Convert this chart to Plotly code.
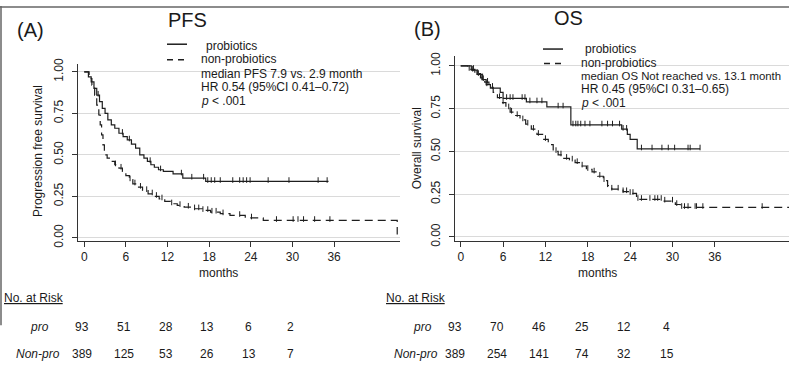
import plotly.graph_objects as go

W, H = 789, 369

# ---------------- Data ----------------
# Panel A: PFS
pfs_pro_t = [0, 0.6, 1.0, 1.4, 1.8, 2.2, 2.6, 3.0, 3.4, 3.9, 4.4, 5.0, 5.6, 6.2, 6.8, 7.4, 8.0,
             8.6, 9.1, 9.6, 10.1, 10.7, 11.4, 12.8, 14.2, 17.5, 35.2]
pfs_pro_s = [1.0, 0.97, 0.94, 0.90, 0.86, 0.82, 0.78, 0.75, 0.71, 0.68, 0.66, 0.63, 0.61, 0.59, 0.565,
             0.54, 0.50, 0.48, 0.46, 0.44, 0.425, 0.41, 0.40, 0.385, 0.36, 0.34, 0.34]
pfs_pro_cens = [2.0, 5.5, 6.5, 9.5, 11.0, 14.0, 15.5, 17.2, 17.8, 18.3, 18.8, 19.6, 21.4, 22.4, 22.9,
                23.4, 23.9, 26.5, 29.5, 33.7, 35.0]

pfs_non_t = [0, 0.7, 1.1, 1.5, 1.8, 2.1, 2.3, 2.5, 2.7, 2.9, 3.3, 3.8, 4.4, 5.0, 5.5, 6.0, 6.5, 7.0,
             7.6, 8.4, 9.2, 10.0, 10.8, 11.6, 12.4, 13.4, 14.4, 15.6, 17.0, 18.2, 19.6, 21.0, 23.2,
             25.8, 45.1]
pfs_non_s = [1.0, 0.96, 0.92, 0.86, 0.80, 0.74, 0.68, 0.62, 0.56, 0.50, 0.48, 0.46, 0.44, 0.42, 0.40,
             0.375, 0.35, 0.325, 0.305, 0.285, 0.265, 0.25, 0.235, 0.22, 0.205, 0.195, 0.185, 0.175,
             0.165, 0.155, 0.145, 0.135, 0.12, 0.105, 0.02]
pfs_non_cens = [4.5, 5.3, 6.6, 7.3, 8.1, 9.0, 9.8, 10.4, 11.2, 12.6, 13.8, 15.0, 15.9, 16.5, 17.1,
                17.8, 18.4, 19.0, 20.0, 22.4, 24.1, 27.7, 30.1, 30.8, 31.6, 33.2, 35.4]

# Panel B: OS
os_pro_t = [0, 1.5, 2.3, 3.0, 3.6, 4.2, 5.6, 6.0, 9.3, 12.2, 15.6, 22.8, 23.6, 24.0, 25.0, 33.9]
os_pro_s = [1.0, 0.975, 0.95, 0.92, 0.89, 0.87, 0.845, 0.81, 0.79, 0.76, 0.655, 0.63, 0.60, 0.57,
            0.515, 0.515]
os_pro_cens = [1.7, 2.5, 3.2, 3.7, 6.5, 7.0, 7.4, 8.7, 9.1, 9.8, 10.8, 11.5, 13.8, 14.5, 15.9, 16.3,
               16.6, 17.0, 17.6, 18.3, 20.0, 20.8, 21.5, 22.5, 23.0, 23.5, 25.6, 27.1, 28.5, 29.4,
               30.3, 32.2, 32.5, 33.9]

os_non_t = [0, 1.0, 2.0, 2.8, 3.4, 4.0, 4.6, 5.2, 5.8, 6.4, 7.0, 7.6, 8.4, 9.2, 10.0, 10.8, 11.6,
            12.4, 13.1, 13.8, 14.6, 15.4, 16.2, 17.0, 17.8, 18.6, 19.4, 20.2, 20.8, 21.4, 23.0,
            24.0, 24.9, 28.7, 30.4, 31.1, 46.5]
os_non_s = [1.0, 0.98, 0.955, 0.93, 0.905, 0.875, 0.845, 0.815, 0.785, 0.755, 0.73, 0.71, 0.685,
            0.66, 0.63, 0.60, 0.57, 0.54, 0.50, 0.48, 0.46, 0.45, 0.435, 0.415, 0.395, 0.38, 0.355,
            0.33, 0.30, 0.28, 0.265, 0.255, 0.22, 0.21, 0.19, 0.173, 0.173]
os_non_cens = [1.2, 1.8, 2.4, 3.1, 3.8, 4.5, 5.5, 6.0, 6.8, 7.2, 8.0, 8.8, 9.5, 10.3, 11.0, 12.0,
               13.5, 14.2, 15.0, 15.8, 16.5, 17.2, 18.0, 18.9, 19.7, 20.3, 20.8, 21.4, 22.3, 23.0,
               23.5, 24.0, 24.4, 25.1, 25.6, 26.8, 27.5, 27.9, 28.4, 28.9, 30.0, 30.6, 31.3, 31.7,
               32.2, 33.2, 33.4, 34.3, 42.7]

# Numbers at risk
risk_months = [0, 6, 12, 18, 24, 30]
pfs_risk_pro = [93, 51, 28, 13, 6, 2]
pfs_risk_non = [389, 125, 53, 26, 13, 7]
os_risk_pro = [93, 70, 46, 25, 12, 4]
os_risk_non = [389, 254, 141, 74, 32, 15]

x_ticks = [0, 6, 12, 18, 24, 30, 36]
y_ticks = [0, 0.25, 0.5, 0.75, 1.0]
y_ticktext = ["0.00", "0.25", "0.50", "0.75", "1.00"]

# ---------------- Helpers ----------------
def px(x):
    return x / W

def py(y):
    return 1 - y / H

def surv_at(t, times, surv):
    s = surv[0]
    for ti, si in zip(times, surv):
        if ti <= t:
            s = si
        else:
            break
    return s

FONT = "Liberation Sans, Arial, sans-serif"
LC = "#1e1e1e"
DASH = "8px,5px"

fig = go.Figure()

def add_curve(t, s, cens, xa, ya, dash):
    fig.add_trace(go.Scatter(x=t, y=s, mode="lines", line=dict(shape="hv", color=LC, width=1.2, dash=dash),
                             xaxis=xa, yaxis=ya, showlegend=False, hoverinfo="skip"))
    fig.add_trace(go.Scatter(x=cens, y=[surv_at(c, t, s) + 0.008 for c in cens], mode="markers",
                             marker=dict(symbol="line-ns", size=4, line=dict(color=LC, width=1)),
                             xaxis=xa, yaxis=ya, showlegend=False, hoverinfo="skip"))

add_curve(pfs_pro_t, pfs_pro_s, pfs_pro_cens, "x", "y", "solid")
add_curve(pfs_non_t, pfs_non_s, pfs_non_cens, "x", "y", DASH)
add_curve(os_pro_t, os_pro_s, os_pro_cens, "x2", "y2", "solid")
add_curve(os_non_t, os_non_s, os_non_cens, "x2", "y2", DASH)

xaxis_common = dict(showline=True, linecolor="#333", linewidth=1, ticks="outside", ticklen=5,
                    tickcolor="#333", tickvals=x_ticks, showgrid=False, zeroline=False,
                    tickfont=dict(family=FONT, size=12, color="#222"))
yaxis_common = dict(showline=True, linecolor="#333", linewidth=1, ticks="outside", ticklen=5,
                    tickcolor="#333", tickvals=y_ticks, ticktext=y_ticktext, tickangle=-90,
                    showgrid=True, gridcolor="#dadada", gridwidth=1, zeroline=False,
                    tickfont=dict(family=FONT, size=12, color="#222"), ticklabelstandoff=4)

fig.update_layout(
    width=W, height=H, autosize=False,
    margin=dict(l=0, r=0, t=0, b=0),
    paper_bgcolor="white", plot_bgcolor="white",
    xaxis=dict(domain=[px(78), px(400)], range=[-0.9, 45.5], anchor="y", **xaxis_common),
    yaxis=dict(domain=[py(243), py(60)], range=[-0.02, 1.047], anchor="x", **yaxis_common),
    xaxis2=dict(domain=[px(455), 1.0], range=[-0.81, 46.5], anchor="y2", **xaxis_common),
    yaxis2=dict(domain=[py(243), py(52)], range=[-0.024, 1.056], anchor="x2", **yaxis_common),
)

ann = []
def text(x, y, s, size=12, xanchor="left", angle=0, xref="paper", xshift=0):
    ann.append(dict(x=x, y=y, xref=xref, yref="paper", text=s, showarrow=False, xanchor=xanchor,
                    yanchor="middle", textangle=angle, xshift=xshift,
                    font=dict(family=FONT, size=size, color="#1a1a1a")))

# Titles
text(px(187.5), py(14), "PFS", size=20, xanchor="center")
text(px(30), py(25), "(A)", size=20, xanchor="center")
text(px(568), py(12), "OS", size=20, xanchor="center")
text(px(427), py(23.5), "(B)", size=20, xanchor="center")

# Axis titles
text(px(38), py(150), "Progression free survival", xanchor="center", angle=-90)
text(px(417), py(147), "Overall survival", xanchor="center", angle=-90)
text(px(218), py(276), "months", xanchor="center")
text(px(597), py(276), "months", xanchor="center")

# Legend A
text(px(204), py(41), "probiotics")
text(px(199), py(55), "non-probiotics")
text(px(199), py(70), "median PFS 7.9 vs. 2.9 month")
text(px(199), py(84), "HR 0.54 (95%CI 0.41\u20130.72)")
text(px(199), py(98), "<i>p</i> < .001")
# Legend B
text(px(583), py(44), "probiotics")
text(px(579), py(58.5), "non-probiotics")
text(px(579), py(72.5), "median OS Not reached vs. 13.1 month", size=11.4)
text(px(579), py(86), "HR 0.45 (95%CI 0.31\u20130.65)")
text(px(579), py(100), "<i>p</i> < .001")

# Numbers at risk
text(px(2), py(302), "<u>No. at Risk</u>")
text(px(384), py(302), "<u>No. at Risk</u>")
text(px(39), py(332), "<i>pro</i>", xanchor="center")
text(px(38), py(360), "<i>Non-pro</i>", xanchor="center")
text(px(422), py(332), "<i>pro</i>", xanchor="center")
text(px(416), py(360), "<i>Non-pro</i>", xanchor="center")
for m, a, b in zip(risk_months, pfs_risk_pro, pfs_risk_non):
    text(m, py(332), str(a), xanchor="center", xref="x", xshift=-2)
    text(m, py(360), str(b), xanchor="center", xref="x", xshift=-2)
for m, a, b in zip(risk_months, os_risk_pro, os_risk_non):
    text(m, py(332), str(a), xanchor="center", xref="x2", xshift=-6)
    text(m, py(360), str(b), xanchor="center", xref="x2", xshift=-6)

fig.update_layout(annotations=ann)

# Legend line samples and image border
shapes = [
    dict(type="line", xref="paper", yref="paper", x0=px(167), x1=px(187), y0=py(39.5), y1=py(39.5),
         line=dict(color=LC, width=1.5)),
    dict(type="line", xref="paper", yref="paper", x0=px(167), x1=px(186), y0=py(55.5), y1=py(55.5),
         line=dict(color=LC, width=1.5, dash="6px,5px")),
    dict(type="line", xref="paper", yref="paper", x0=px(543), x1=px(563), y0=py(44.5), y1=py(44.5),
         line=dict(color=LC, width=1.5)),
    dict(type="line", xref="paper", yref="paper", x0=px(544), x1=px(563), y0=py(59.5), y1=py(59.5),
         line=dict(color=LC, width=1.5, dash="6px,5px")),
    dict(type="line", xref="paper", yref="paper", x0=0, x1=1, y0=py(1), y1=py(1),
         line=dict(color="#666", width=1.5)),
    dict(type="line", xref="paper", yref="paper", x0=px(1), x1=px(1), y0=py(0), y1=py(330),
         line=dict(color="#666", width=1.5)),
]
fig.update_layout(shapes=shapes)

fig.write_html(
    "out.html",
    config={"displayModeBar": False},
    post_script="document.body.style.margin='0';document.body.style.padding='0';"
                "document.documentElement.style.overflow='hidden';",
)
